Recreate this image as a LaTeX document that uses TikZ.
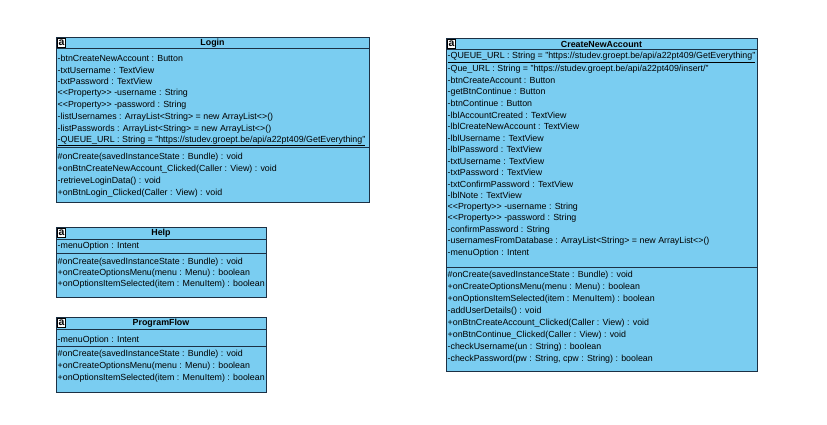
\documentclass[tikz,border=0pt]{standalone}
\usepackage{fontspec}
\setmainfont{Liberation Sans}
\definecolor{boxfill}{RGB}{122,205,241}
\definecolor{boxline}{RGB}{28,48,68}
\tikzset{
  classbox/.style={draw=boxline, fill=boxfill, line width=0.9pt},
  sepline/.style={draw=boxline, line width=0.7pt},
  row/.style={anchor=west, inner sep=0pt, font=\fontsize{8.85}{10}\selectfont},
  title/.style={inner sep=0pt, font=\fontsize{8.85}{10}\selectfont\bfseries},
  icon/.style={draw=black, fill=white, inner sep=0pt, minimum width=8pt, minimum height=9pt, font=\fontsize{10.5}{10}\selectfont\bfseries, line width=0.6pt}
}
\begin{document}
\begin{tikzpicture}[x=1pt,y=-1pt]
\useasboundingbox (0,0) rectangle (827,424);
\fill[white] (0,0) rectangle (827,424);

% ---------------- Login ----------------
\path[classbox] (56,37) rectangle (369,202);
\draw[sepline] (56,48) -- (369,48);
\draw[sepline] (56,147) -- (369,147);
\node[icon] (li) at (61.5,42.5) {a};
\node[title] (lt) at (212.5,43) {Login};
\node[row] (la1) at (57.5,58) {-btnCreateNewAccount : Button};
\node[row] (la2) at (57.5,69.9) {-txtUsername : TextView};
\node[row] (la3) at (57.5,81.8) {-txtPassword : TextView};
\node[row] (la4) at (57.5,93.7) {<{}<Property>{}> -username : String};
\node[row] (la5) at (57.5,105.6) {<{}<Property>{}> -password : String};
\node[row] (la6) at (57.5,117.5) {-listUsernames : ArrayList<String> = new ArrayList<>()};
\node[row] (la7) at (57.5,129.4) {-listPasswords : ArrayList<String> = new ArrayList<>()};
\node[row] (la8) at (57.5,141) {\underline{-QUEUE\_URL : String = "https://studev.groept.be/api/a22pt409/GetEverything"}};
\node[row] (lm1) at (57.5,157.5) {\#onCreate(savedInstanceState : Bundle) : void};
\node[row] (lm2) at (57.5,169.3) {+onBtnCreateNewAccount\_Clicked(Caller : View) : void};
\node[row] (lm3) at (57.5,181.1) {-retrieveLoginData() : void};
\node[row] (lm4) at (57.5,192.9) {+onBtnLogin\_Clicked(Caller : View) : void};

% ---------------- Help ----------------
\path[classbox] (56,227) rectangle (266,297);
\draw[sepline] (56,239) -- (266,239);
\draw[sepline] (56,253) -- (266,253);
\node[icon] (hi) at (61.5,232.5) {a};
\node[title] (ht) at (161,233) {Help};
\node[row] (ha1) at (57.5,246) {-menuOption : Intent};
\node[row] (hm1) at (57.5,262) {\#onCreate(savedInstanceState : Bundle) : void};
\node[row] (hm2) at (57.5,273.3) {+onCreateOptionsMenu(menu : Menu) : boolean};
\node[row] (hm3) at (57.5,284.6) {+onOptionsItemSelected(item : MenuItem) : boolean};

% ---------------- ProgramFlow ----------------
\path[classbox] (56,317) rectangle (266,392);
\draw[sepline] (56,329) -- (266,329);
\draw[sepline] (56,346) -- (266,346);
\node[icon] (pi) at (61.5,322.5) {a};
\node[title] (pt) at (161,323) {ProgramFlow};
\node[row] (pa1) at (57.5,340) {-menuOption : Intent};
\node[row] (pm1) at (57.5,354) {\#onCreate(savedInstanceState : Bundle) : void};
\node[row] (pm2) at (57.5,366) {+onCreateOptionsMenu(menu : Menu) : boolean};
\node[row] (pm3) at (57.5,378.5) {+onOptionsItemSelected(item : MenuItem) : boolean};

% ---------------- CreateNewAccount ----------------
\path[classbox] (446,38) rectangle (757,371);
\draw[sepline] (446,49) -- (757,49);
\draw[sepline] (446,267) -- (757,267);
\node[icon] (ci) at (451.5,43.5) {a};
\node[title] (ct) at (601.5,44) {CreateNewAccount};
\node[row] (ca1) at (447.5,57.3) {\underline{-QUEUE\_URL : String = "https://studev.groept.be/api/a22pt409/GetEverything"}};
\node[row] (ca2) at (447.5,69) {-Que\_URL : String = "https://studev.groept.be/api/a22pt409/insert/"};
\node[row] (ca3) at (447.5,80.5) {-btnCreateAccount : Button};
\node[row] (ca4) at (447.5,92) {-getBtnContinue : Button};
\node[row] (ca5) at (447.5,103.5) {-btnContinue : Button};
\node[row] (ca6) at (447.5,115) {-lblAccountCreated : TextView};
\node[row] (ca7) at (447.5,126.5) {-lblCreateNewAccount : TextView};
\node[row] (ca8) at (447.5,138) {-lblUsername : TextView};
\node[row] (ca9) at (447.5,149.5) {-lblPassword : TextView};
\node[row] (ca10) at (447.5,161) {-txtUsername : TextView};
\node[row] (ca11) at (447.5,172.5) {-txtPassword : TextView};
\node[row] (ca12) at (447.5,184) {-txtConfirmPassword : TextView};
\node[row] (ca13) at (447.5,195.5) {-lblNote : TextView};
\node[row] (ca14) at (447.5,207) {<{}<Property>{}> -username : String};
\node[row] (ca15) at (447.5,218.5) {<{}<Property>{}> -password : String};
\node[row] (ca16) at (447.5,230) {-confirmPassword : String};
\node[row] (ca17) at (447.5,241.5) {-usernamesFromDatabase : ArrayList<String> = new ArrayList<>()};
\node[row] (ca18) at (447.5,253) {-menuOption : Intent};
\node[row] (cm1) at (447.5,275.5) {\#onCreate(savedInstanceState : Bundle) : void};
\node[row] (cm2) at (447.5,287.4) {+onCreateOptionsMenu(menu : Menu) : boolean};
\node[row] (cm3) at (447.5,299.3) {+onOptionsItemSelected(item : MenuItem) : boolean};
\node[row] (cm4) at (447.5,311.2) {-addUserDetails() : void};
\node[row] (cm5) at (447.5,323.1) {+onBtnCreateAccount\_Clicked(Caller : View) : void};
\node[row] (cm6) at (447.5,335) {+onBtnContinue\_Clicked(Caller : View) : void};
\node[row] (cm7) at (447.5,346.9) {-checkUsername(un : String) : boolean};
\node[row] (cm8) at (447.5,358.8) {-checkPassword(pw : String, cpw : String) : boolean};
\end{tikzpicture}
\end{document}
